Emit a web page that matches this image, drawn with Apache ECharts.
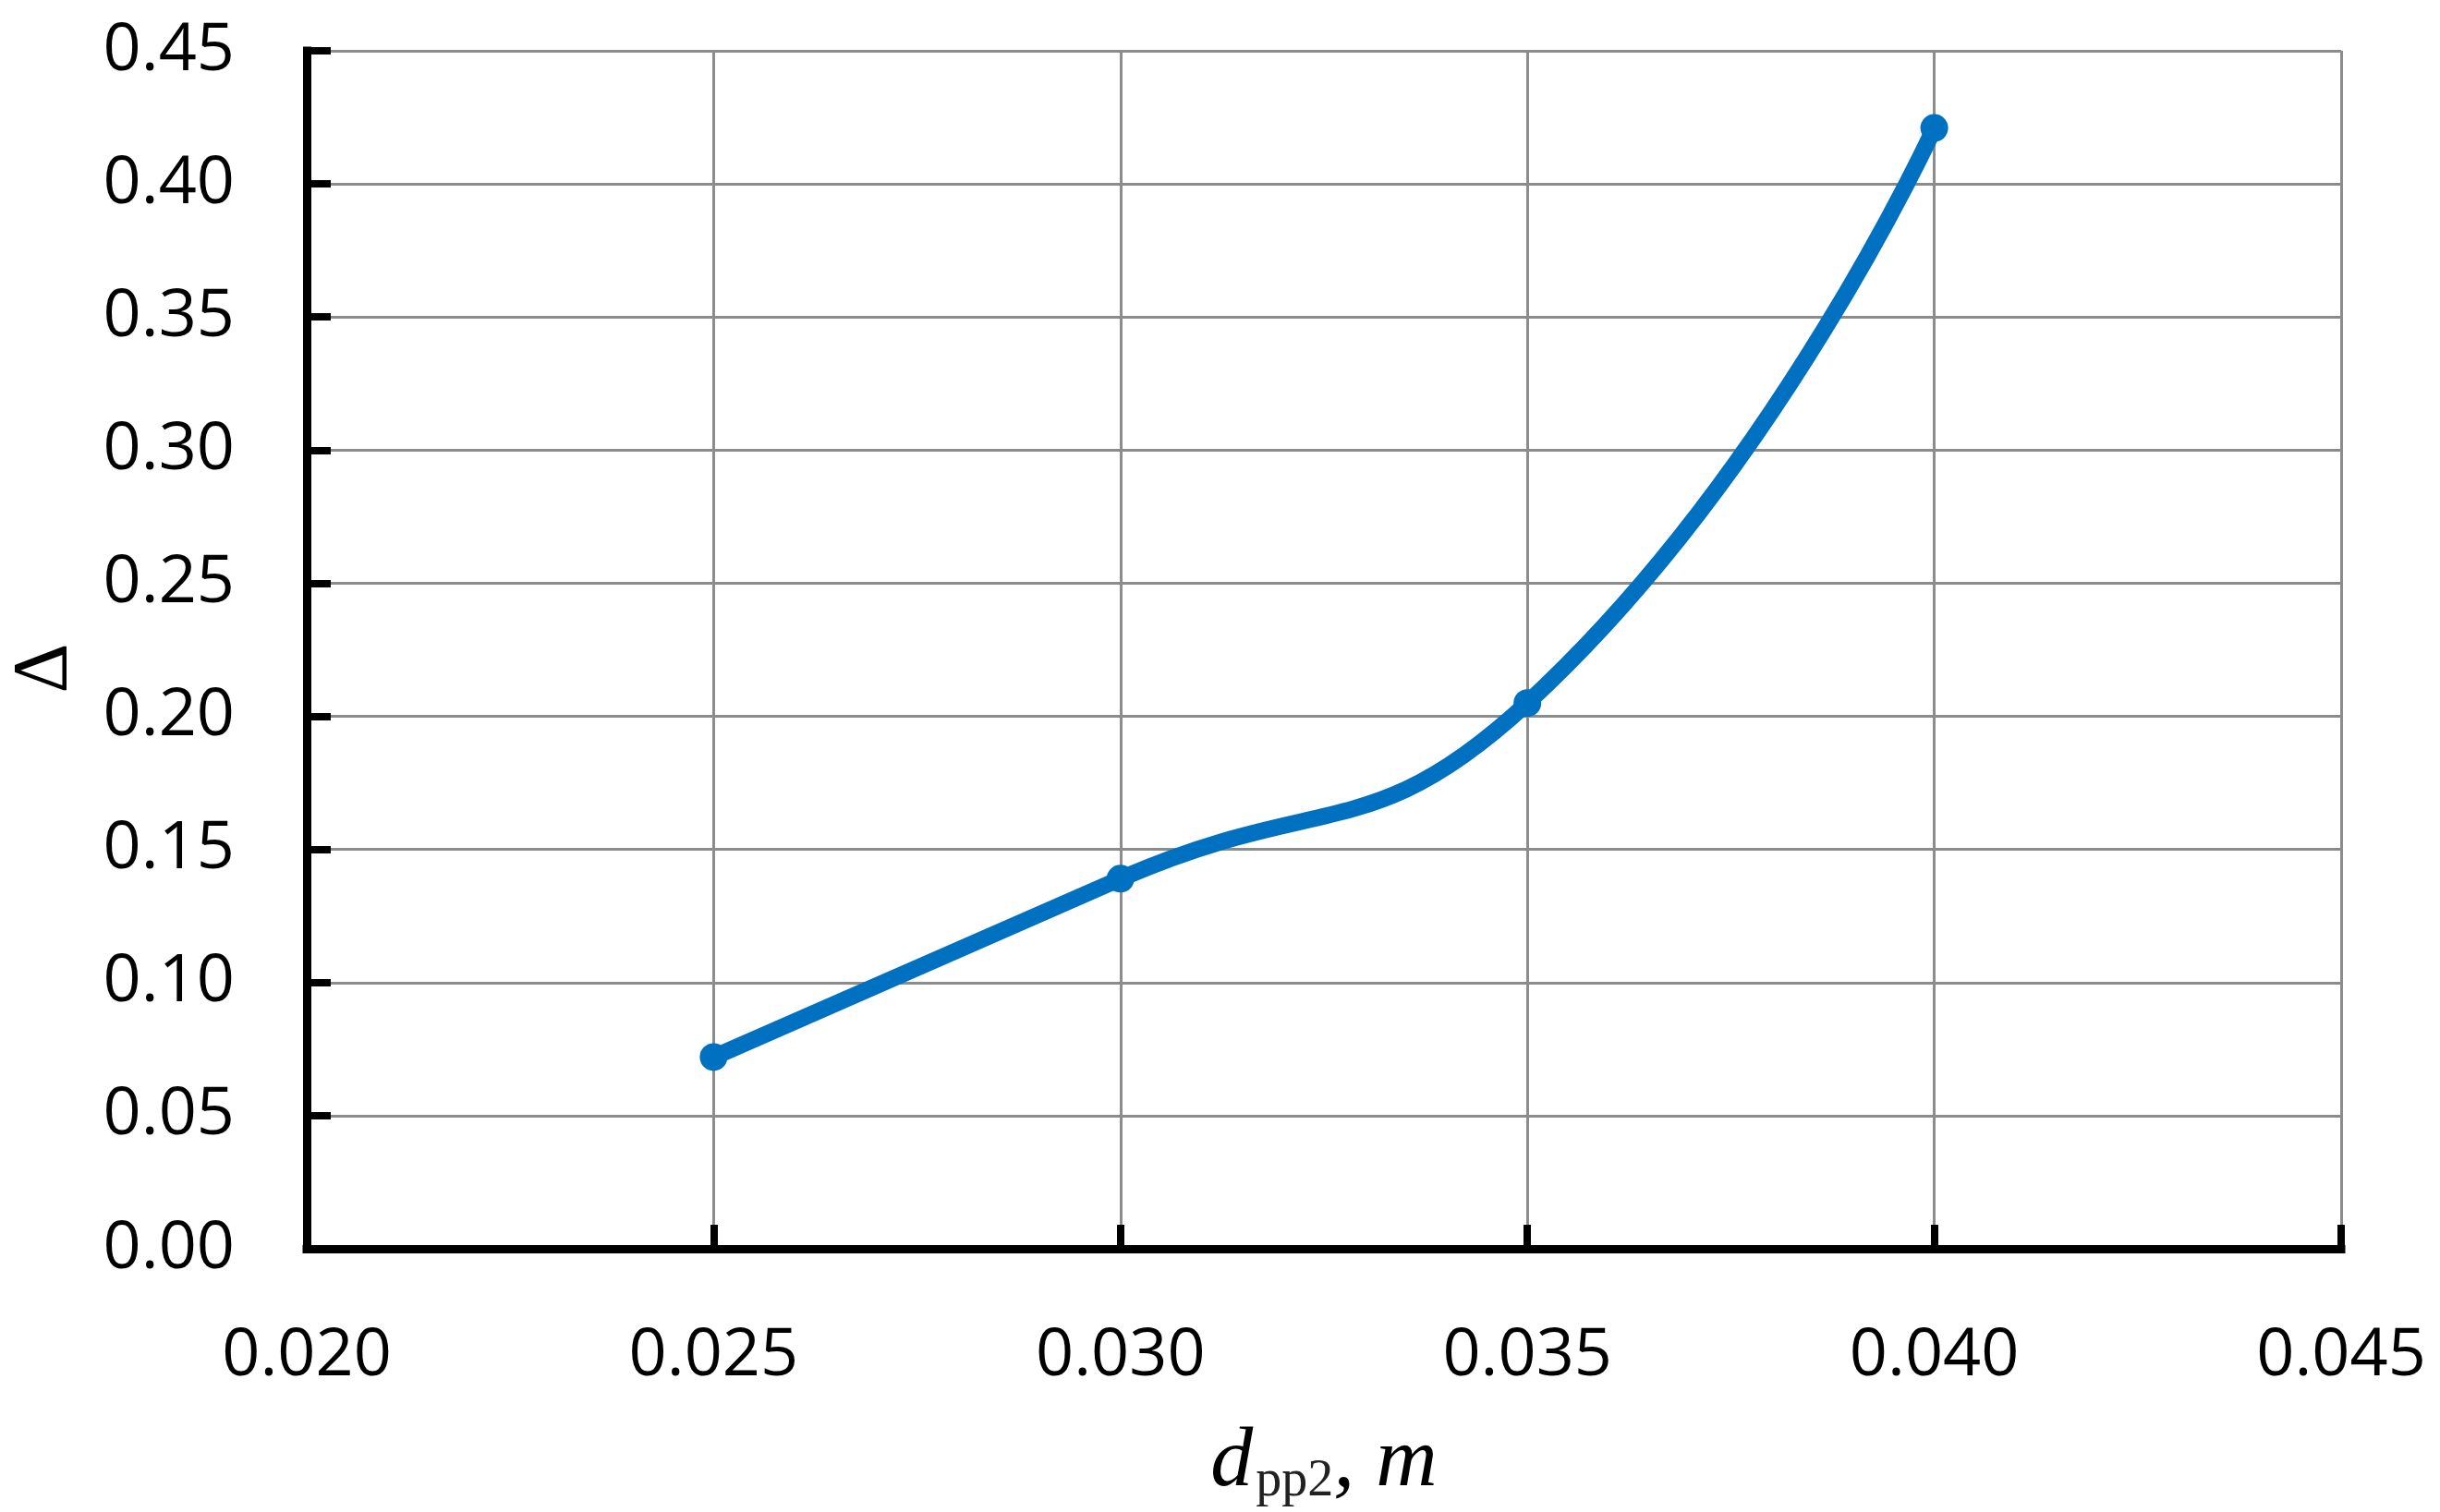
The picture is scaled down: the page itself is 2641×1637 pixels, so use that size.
<!DOCTYPE html>
<html>
<head>
<meta charset="utf-8">
<style>
  html, body { margin: 0; padding: 0; background: #fff; }
  #chart { width: 2641px; height: 1637px; }
</style>
<script src="https://cdn.jsdelivr.net/npm/echarts@6/dist/echarts.min.js"></script>
</head>
<body>
<div id="chart"></div>
<script>
'use strict';

// ---- data ----
const dpp2 = [0.025, 0.030, 0.035, 0.040];
const delta = [0.072, 0.139, 0.205, 0.421];

// ---- axis ranges ----
const xRange = { min: 0.020, max: 0.045, step: 0.005 };
const yRange = { min: 0, max: 0.45, step: 0.05 };

const C = { line: '#0070c0', grid: '#8c8c8c', ink: '#000' };
const tickFont = { color: C.ink, fontSize: 72, fontFamily: 'Open Sans' };
const axisLine = { lineStyle: { color: C.ink, width: 9, cap: 'square' } };
const axisTick = { inside: true, length: 26, lineStyle: { color: C.ink, width: 8 } };
const splitLine = { show: true, lineStyle: { color: C.grid, width: 3 } };

const chart = echarts.init(document.getElementById('chart'));
chart.setOption({
  animation: false,
  backgroundColor: '#fff',
  grid: { left: 329, right: 107, top: 55, bottom: 282, containLabel: false },
  xAxis: {
    type: 'value', min: xRange.min, max: xRange.max, interval: xRange.step,
    axisLine, axisTick, splitLine,
    axisLabel: { ...tickFont, margin: 80, formatter: v => v.toFixed(3) },
    name: '{d|d}{s|pp2}{n|, m}',
    nameLocation: 'middle', nameGap: 186,
    nameTextStyle: {
      rich: {
        d: { fontFamily: 'Liberation Serif', fontStyle: 'italic', fontSize: 92, color: C.ink, lineHeight: 104, verticalAlign: 'top' },
        s: { fontFamily: 'Liberation Serif', fontSize: 56, color: '#222', lineHeight: 56, padding: [38, 0, 0, 3], verticalAlign: 'top' },
        n: { fontFamily: 'Liberation Serif', fontStyle: 'italic', fontSize: 92, color: C.ink, lineHeight: 104, verticalAlign: 'top' },
      },
    },
  },
  yAxis: {
    type: 'value', min: yRange.min, max: yRange.max, interval: yRange.step,
    axisLine, axisTick, splitLine,
    axisLabel: { ...tickFont, margin: 78, formatter: v => v.toFixed(2) },
    name: 'Δ', nameLocation: 'middle', nameGap: 240,
    nameTextStyle: { fontFamily: 'Liberation Serif', fontSize: 84, color: C.ink, padding: [0, 40, 0, 0] },
  },
  series: [{
    type: 'line',
    data: dpp2.map((x, i) => [x, delta[i]]),
    smooth: 0.5,
    symbol: 'circle', symbolSize: 30,
    lineStyle: { color: C.line, width: 18 },
    itemStyle: { color: C.line },
    z: 3,
  }],
});
</script>
</body>
</html>
